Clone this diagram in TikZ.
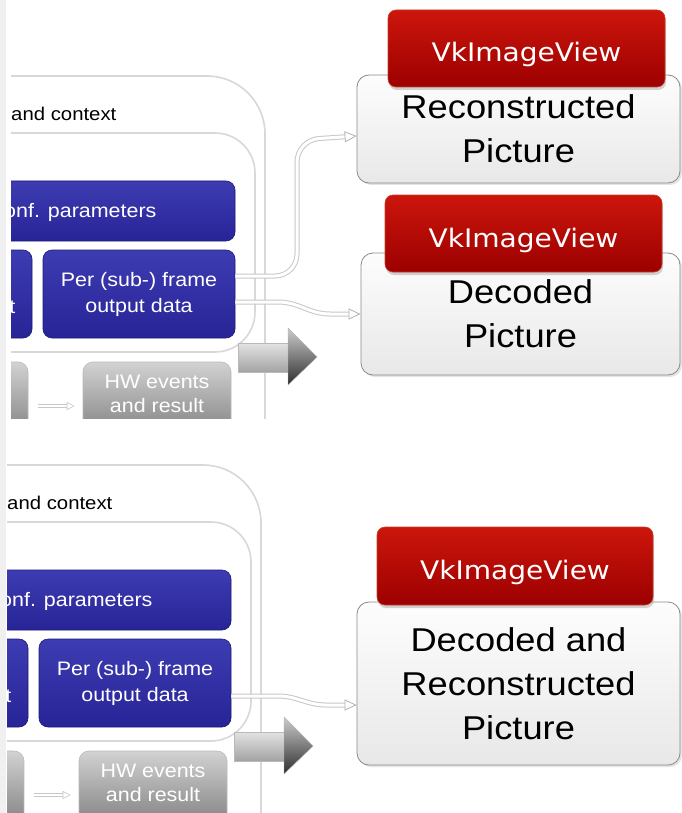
\documentclass[tikz,border=0pt]{standalone}
\usepackage{fontspec}
\setmainfont{Liberation Sans}[FakeStretch=1.1]
\newfontfamily\tabfamily{DejaVu Sans}[FakeStretch=1.1]
\usetikzlibrary{arrows.meta,shadows}

\definecolor{stripgray}{RGB}{240,240,240}
\definecolor{frameln}{RGB}{216,216,216}
\definecolor{blueTop}{RGB}{62,60,178}
\definecolor{blueBot}{RGB}{38,36,150}
\definecolor{blueEdge}{RGB}{28,26,118}
\definecolor{hwTop}{RGB}{210,210,210}
\definecolor{hwBot}{RGB}{92,92,92}
\definecolor{redTop}{RGB}{204,22,12}
\definecolor{redBot}{RGB}{156,0,0}
\definecolor{redEdge}{RGB}{196,64,34}
\definecolor{picTop}{RGB}{253,253,253}
\definecolor{picBot}{RGB}{232,232,232}
\definecolor{picEdge}{RGB}{138,138,138}
\definecolor{tubeEdge}{RGB}{200,200,200}

\newcommand\txtpanel{\fontsize{19.5}{26}\selectfont}
\newcommand\txthw{\fontsize{19.5}{24}\selectfont}
\newcommand\txtctx{\fontsize{18.5}{22}\selectfont}
\newcommand\txtpic{\fontsize{33}{44}\selectfont}
\newcommand\txttab{\tabfamily\fontsize{25.5}{30}\selectfont}

\tikzset{
  frame/.style={draw=frameln, line width=1.6pt},
  bluebox/.style={rounded corners=9pt, top color=blueTop, bottom color=blueBot,
    draw=blueEdge, line width=0.6pt, inner sep=0pt, text=white, align=center,
    font=\txtpanel},
  hwbox/.style={rounded corners=10pt, top color=hwTop, bottom color=hwBot,
    draw=gray!55, line width=0.6pt, inner sep=0pt},
  picbox/.style={rounded corners=12pt, top color=picTop, bottom color=picBot,
    draw=picEdge, line width=0.8pt, align=center, font=\txtpic, inner sep=0pt,
    drop shadow={shadow xshift=2pt, shadow yshift=-2pt, opacity=0.22}},
  tabbox/.style={rounded corners=8pt, top color=redTop, bottom color=redBot,
    draw=redEdge, line width=0.6pt, text=white, font=\txttab,
    text height=27pt, text depth=0pt, inner sep=0pt,
    drop shadow={shadow xshift=1pt, shadow yshift=-3pt, opacity=0.35}},
  tube/.style={preaction={draw=tubeEdge, line width=5pt, arrows=-, shorten >=9pt},
    draw=white, line width=3pt,
    arrows={-Triangle[length=12pt, width=11pt, line width=0.8pt, color=tubeEdge!70!gray, fill=white]}},
  thintube/.style={preaction={draw=tubeEdge, line width=3.4pt, arrows=-, shorten >=6pt},
    draw=white, line width=1.8pt,
    arrows={-Triangle[length=8pt, width=8pt, line width=0.6pt, color=tubeEdge, fill=white]}},
}

% left-hand part of one panel: context frames, data blocks and the output arrow
\newcommand\panelcontent{%
  \fill[white] (-60,60) rectangle (300,900);
  \draw[frame, rounded corners=58pt] (-60,76) -- (265,76) -- (265,900);
  \node[anchor=west, font=\txtctx, inner sep=0pt] (ctx) at (11,114) {and context};
  \draw[frame, rounded corners=40pt] (-60,133) -- (255,133) -- (255,352) -- (-60,352);
  \node[bluebox, minimum width=355pt, minimum height=60pt] (conf) at (57.5,211) {};
  \node[anchor=west, inner sep=0pt, text=white, font=\txtpanel] (conftxt) at (4,212) {onf. parameters};
  \node[bluebox, minimum width=132pt, minimum height=88pt] (inleft) at (-34,294) {};
  \node[anchor=base east, inner sep=0pt, text=white, font=\txtpanel] (intxt) at (15.5,313) {t};
  \node[bluebox, minimum width=192pt, minimum height=88pt] (per) at (139,294) {Per (sub-) frame\\output data};
  \node[hwbox, minimum width=128pt, minimum height=108pt] (lgray) at (-36,416) {};
  \node[hwbox, minimum width=148pt, minimum height=108pt] (hw) at (157,416) {};
  \node[font=\txthw, text=white, align=center, inner sep=0pt] (hwtxt) at (157,394) {HW events\\and result};
  \draw[thintube] ([xshift=10pt, yshift=10pt]lgray.east) -- ([xshift=-8pt, yshift=10pt]hw.west);
  \shade[top color=gray!22, bottom color=gray!72, draw=gray!55, line width=0.4pt]
    (238,343) rectangle (290,372);
  \shade[top color=gray!40, bottom color=black!82, draw=gray!60, line width=0.4pt]
    (288,328) -- (317,357) -- (288,385) -- cycle;
}

\begin{document}
\begin{tikzpicture}[x=1pt, y=-1pt]
  \path[use as bounding box] (0,0) rectangle (681,813);
  \fill[white] (0,0) rectangle (681,813);
  \fill[stripgray] (0,0) rectangle (6,813);

  % upper panel
  \begin{scope}
    \clip (11,0) rectangle (681,418);
    \begin{scope}[name prefix=top-]
      \panelcontent
    \end{scope}
  \end{scope}

  % lower panel
  \begin{scope}
    \clip (7,418) rectangle (681,813);
    \begin{scope}[name prefix=bot-, shift={(-4,389)}]
      \panelcontent
    \end{scope}
  \end{scope}

  % output pictures
  \node[picbox, minimum width=323pt, minimum height=108pt] (rec) at (518.5,129) {Reconstructed\\Picture};
  \node[tabbox, minimum width=277pt, minimum height=77pt] (tab1) at (526.5,48.5) {VkImageView};

  \node[picbox, minimum width=319pt, minimum height=122pt] (dec) at (520.5,314) {Decoded\\Picture};
  \node[tabbox, minimum width=277pt, minimum height=77pt] (tab2) at (523.5,233.5) {VkImageView};

  \node[picbox, minimum width=323pt, minimum height=163pt] (dr) at (518.5,683.5) {Decoded and\\Reconstructed\\Picture};
  \node[tabbox, minimum width=276pt, minimum height=78pt] (tab3) at (515,566) {VkImageView};

  % data flow into the pictures
  \draw[tube, rounded corners=22pt] ([yshift=18pt]top-per.east) -| (297,140) -- ([yshift=-7pt]rec.west);
  \draw[tube] ([yshift=-8pt]top-per.east) -- (278,302) to[out=0, in=180] (330,314) -- (dec.west);
  \draw[tube] ([yshift=-13pt]bot-per.east) -- (278,696) to[out=0, in=180] (326,705) -- ([yshift=-21.5pt]dr.west);
\end{tikzpicture}
\end{document}
